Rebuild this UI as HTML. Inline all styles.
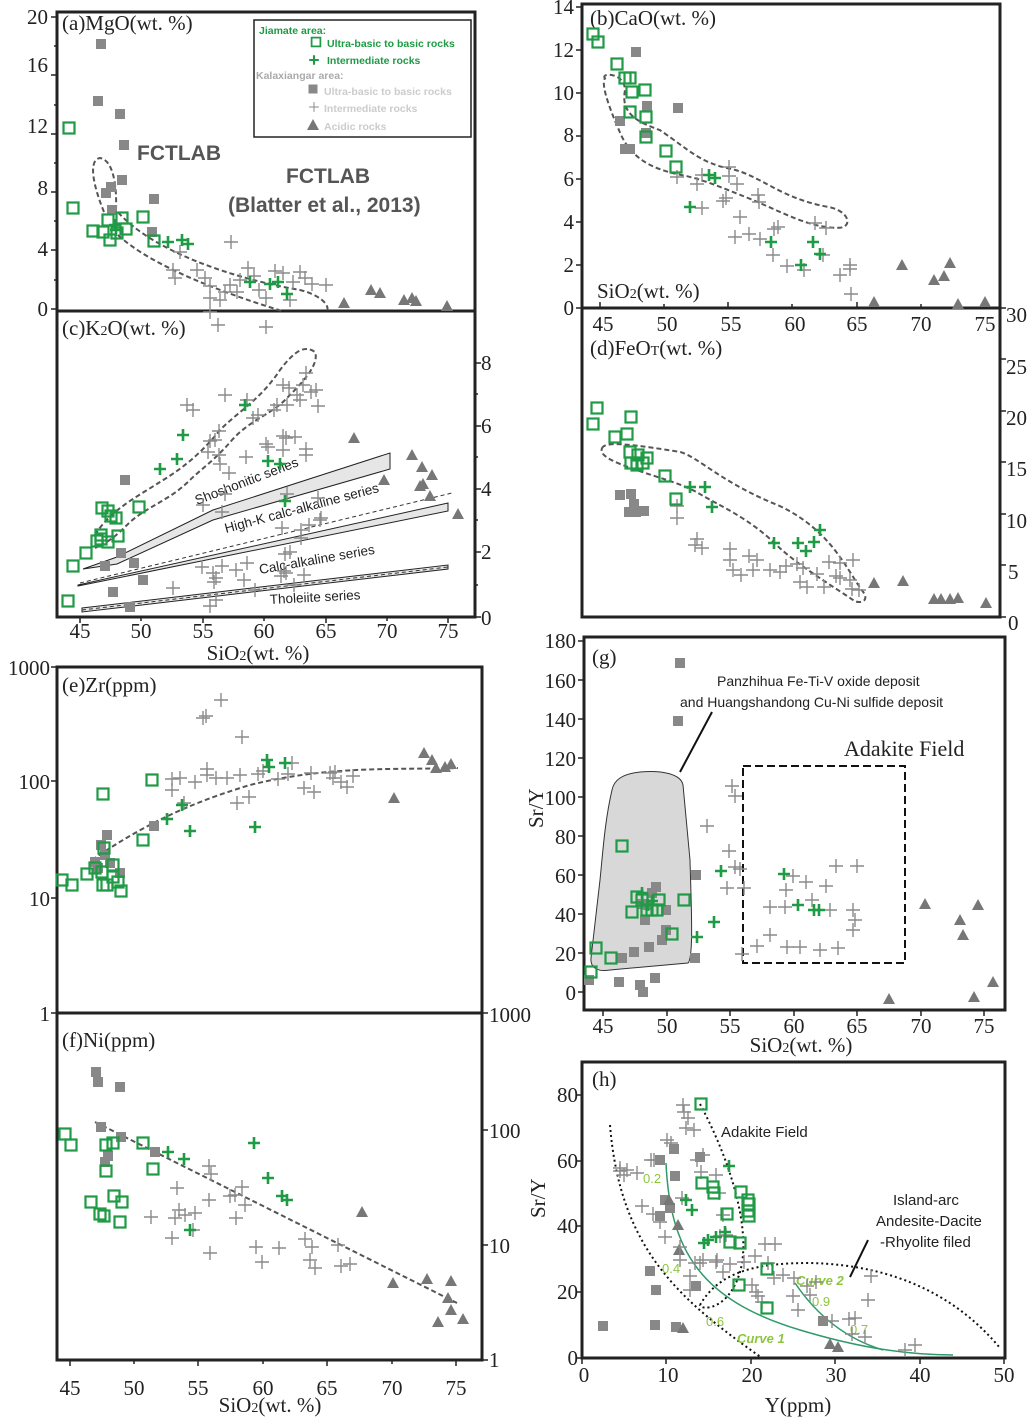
<!DOCTYPE html>
<html><head><meta charset="utf-8"><style>
html,body{margin:0;padding:0;background:#fff}
svg{display:block}
.ax{font-family:"Liberation Serif",serif;font-size:21px;fill:#222}
.sans{font-family:"Liberation Sans",sans-serif}
</style></head><body>
<svg width="1033" height="1418" viewBox="0 0 1033 1418" xmlns="http://www.w3.org/2000/svg">
<defs>
<g id="gs"><rect x="-5.5" y="-5.5" width="11" height="11" fill="none" stroke="#1f9a45" stroke-width="2.2"/></g>
<g id="gp"><path d="M-6,0H6M0,-6V6" stroke="#1f9a45" stroke-width="2.6"/></g>
<g id="ks"><rect x="-5" y="-5" width="10" height="10" fill="#888"/></g>
<g id="kp"><path d="M-7,0H7M0,-7V7" stroke="#8a8a8a" stroke-width="1.4"/></g>
<g id="kt"><path d="M0,-6L6,5H-6Z" fill="#777"/></g>
</defs>

<!-- frames -->
<g fill="none" stroke="#222" stroke-width="3">
<rect x="57" y="12" width="418" height="605"/>
<line x1="57" y1="311" x2="475" y2="311"/>
<rect x="582" y="4" width="418" height="613"/>
<line x1="582" y1="308" x2="1000" y2="308"/>
<rect x="57" y="667" width="425" height="693"/>
<line x1="57" y1="1013" x2="482" y2="1013"/>
<rect x="584" y="637" width="421" height="373"/>
<rect x="582" y="1062" width="423" height="296"/>
</g>

<!-- tick marks -->
<g stroke="#222" stroke-width="1.5">
<path d="M57,17h-6M57,46h-3M57,75h-6M57,105h-3M57,134h-6M57,163h-3M57,192h-6M57,221h-3M57,250h-6M57,280h-3M57,309h-6"/>
<path d="M475,363h6M475,394h3M475,426h6M475,457h3M475,489h6M475,520h3M475,552h6M475,585h3M475,617h6"/>
<path d="M80,617v6M141,617v4M203,617v6M264,617v4M326,617v6M387,617v4M448,617v6"/>
<path d="M582,7h-6M582,50h-6M582,93h-6M582,136h-6M582,179h-6M582,222h-6M582,265h-6M582,308h-6"/>
<path d="M600,308v-6M664,308v-4M728,308v-6M792,308v-4M857,308v-6M921,308v-4M985,308v-6"/>
<path d="M1000,308h6M1000,359h6M1000,411h6M1000,462h6M1000,514h6M1000,565h6M1000,617h6"/>
<path d="M57,667h-6M57,781h-6M57,898h-6M57,1013h-6"/>
<path d="M482,1013h6M482,1130h6M482,1245h6M482,1360h6"/>
<path d="M70,1360v6M134,1360v4M198,1360v6M263,1360v4M327,1360v6M392,1360v4M456,1360v6"/>
<path d="M584,641h-6M584,680h-6M584,719h-6M584,758h-6M584,797h-6M584,836h-6M584,875h-6M584,914h-6M584,953h-6M584,992h-6"/>
<path d="M603,1010v6M667,1010v6M730,1010v6M794,1010v6M857,1010v6M921,1010v6M984,1010v6"/>
<path d="M582,1095h-6M582,1161h-6M582,1226h-6M582,1292h-6M582,1358h-6"/>
<path d="M582,1358v6M666,1358v6M751,1358v6M835,1358v6M920,1358v6M1004,1358v6"/>
</g>

<!-- tick labels -->
<g class="ax" text-anchor="end">
<text x="48" y="24">20</text><text x="48" y="72">16</text><text x="48" y="133">12</text><text x="48" y="195">8</text><text x="48" y="256">4</text><text x="48" y="316">0</text>
<text x="574" y="14">14</text><text x="574" y="57">12</text><text x="574" y="100">10</text><text x="574" y="142">8</text><text x="574" y="186">6</text><text x="574" y="229">4</text><text x="574" y="272">2</text><text x="574" y="315">0</text>
<text x="50" y="675">1000</text><text x="50" y="789">100</text><text x="50" y="906">10</text><text x="50" y="1021">1</text>
<text x="576" y="648">180</text><text x="576" y="688">160</text><text x="576" y="727">140</text><text x="576" y="766">120</text><text x="576" y="805">100</text><text x="576" y="844">80</text><text x="576" y="883">60</text><text x="576" y="922">40</text><text x="576" y="961">20</text><text x="576" y="1000">0</text>
<text x="578" y="1102">80</text><text x="578" y="1168">60</text><text x="578" y="1233">40</text><text x="578" y="1299">20</text><text x="578" y="1365">0</text>
</g>
<g class="ax">
<text x="481" y="370">8</text><text x="481" y="433">6</text><text x="481" y="496">4</text><text x="481" y="559">2</text><text x="481" y="625">0</text>
<text x="1006" y="322">30</text><text x="1006" y="374">25</text><text x="1006" y="425">20</text><text x="1006" y="476">15</text><text x="1006" y="528">10</text><text x="1008" y="579">5</text><text x="1008" y="630">0</text>
<text x="489" y="1022">1000</text><text x="489" y="1138">100</text><text x="489" y="1253">10</text><text x="489" y="1367">1</text>
</g>
<g class="ax" text-anchor="middle">
<text x="80" y="638">45</text><text x="141" y="638">50</text><text x="203" y="638">55</text><text x="264" y="638">60</text><text x="326" y="638">65</text><text x="387" y="638">70</text><text x="448" y="638">75</text>
<text x="603" y="331">45</text><text x="667" y="331">50</text><text x="731" y="331">55</text><text x="795" y="331">60</text><text x="857" y="331">65</text><text x="921" y="331">70</text><text x="985" y="331">75</text>
<text x="70" y="1395">45</text><text x="134" y="1395">50</text><text x="198" y="1395">55</text><text x="263" y="1395">60</text><text x="327" y="1395">65</text><text x="392" y="1395">70</text><text x="456" y="1395">75</text>
<text x="603" y="1033">45</text><text x="667" y="1033">50</text><text x="730" y="1033">55</text><text x="794" y="1033">60</text><text x="857" y="1033">65</text><text x="921" y="1033">70</text><text x="984" y="1033">75</text>
<text x="584" y="1382">0</text><text x="668" y="1382">10</text><text x="752" y="1382">20</text><text x="836" y="1382">30</text><text x="920" y="1382">40</text><text x="1004" y="1382">50</text>
<text x="258" y="660">SiO<tspan font-size="14">2</tspan>(wt. %)</text>
<text x="270" y="1412">SiO<tspan font-size="14">2</tspan>(wt. %)</text>
<text x="801" y="1052">SiO<tspan font-size="14">2</tspan>(wt. %)</text>
<text x="798" y="1412">Y(ppm)</text>
</g>
<g class="ax">
<text x="62" y="30">(a)MgO(wt. %)</text>
<text x="590" y="25">(b)CaO(wt. %)</text>
<text x="597" y="298">SiO<tspan font-size="14">2</tspan>(wt. %)</text>
<text x="62" y="335">(c)K<tspan font-size="14">2</tspan>O(wt. %)</text>
<text x="590" y="355">(d)FeO<tspan font-size="14">T</tspan>(wt. %)</text>
<text x="62" y="692">(e)Zr(ppm)</text>
<text x="62" y="1047">(f)Ni(ppm)</text>
<text x="592" y="664">(g)</text>
<text x="592" y="1086">(h)</text>
<text transform="translate(543,828) rotate(-90)">Sr/Y</text>
<text transform="translate(545,1218) rotate(-90)">Sr/Y</text>
<text x="844" y="756" font-size="22">Adakite Field</text>
</g>

<!-- legend -->
<rect x="254" y="20" width="217" height="117" fill="none" stroke="#222" stroke-width="1.5"/>
<g class="sans" font-size="10.5" font-weight="bold">
<text x="259" y="34" fill="#1f9a45">Jiamate area:</text>
<text x="327" y="47" fill="#1f9a45">Ultra-basic to basic rocks</text>
<text x="327" y="64" fill="#1f9a45">Intermediate rocks</text>
<text x="256" y="79" fill="#aaa">Kalaxiangar area:</text>
<text x="324" y="95" fill="#ccc">Ultra-basic to basic rocks</text>
<text x="324" y="112" fill="#ccc">Intermediate rocks</text>
<text x="324" y="130" fill="#ccc">Acidic rocks</text>
</g>
<g transform="translate(316,42) scale(0.8)"><use href="#gs"/></g>
<g transform="translate(314,60) scale(0.8)"><use href="#gp"/></g>
<g transform="translate(313,89) scale(0.9)"><use href="#ks"/></g>
<g transform="translate(314,107) scale(0.7)"><use href="#kp"/></g>
<g transform="translate(313,125)"><use href="#kt"/></g>
<g class="sans" font-weight="bold" fill="#555" font-size="21">
<text x="137" y="160">FCTLAB</text>
<text x="286" y="183">FCTLAB</text>
<text x="228" y="212">(Blatter et al., 2013)</text>
</g>

<!-- dashed outlines -->
<g fill="none" stroke="#555" stroke-width="2" stroke-dasharray="5,3">
<path d="M104,212 C93,185 88,160 100,158 C113,160 117,185 116,210 C150,250 230,278 300,290 C320,295 330,305 327,311"/>
<path d="M118,235 C150,265 220,292 282,311"/>
<path d="M95,535 C110,510 140,495 160,482 C180,470 200,455 220,430 C240,410 260,400 280,370 C295,350 305,345 315,352 C320,365 300,385 285,400 C270,415 250,420 232,440 C215,460 200,470 190,480 C170,500 150,505 130,522 C120,532 110,542 95,548"/>
<path d="M92,860 C150,820 200,800 250,785 C330,765 400,770 458,768"/>
<path d="M95,1122 L457,1303"/>
</g>
<g fill="none" stroke="#555" stroke-width="2" stroke-dasharray="5,3" transform="scale(1,1.205)">
<path vector-effect="non-scaling-stroke" d="M605,65 C600,60 625,60 625,75 C620,95 640,102 660,108 C690,125 700,135 730,140 C760,145 780,165 830,172 C850,176 852,188 840,189 C810,190 780,175 750,165 C720,155 700,148 680,145 C650,140 630,130 620,110 C612,95 600,70 605,65Z"/>
<path vector-effect="non-scaling-stroke" d="M602,372 C605,365 640,370 680,375 C700,380 720,400 780,420 C830,440 845,470 862,490 C870,498 862,501 855,499 C830,485 800,470 780,455 C750,430 720,420 700,410 C680,400 650,395 620,385 C605,380 600,376 602,372Z"/>
</g>

<!-- c series bands -->
<g fill="#e6e6e6" stroke="#222" stroke-width="1">
<path d="M83,569 L117,557 L213,510 L390,453 L390,469 L213,520 L117,564 Z"/>
<path d="M78,585 L448,503 L448,511 L78,586 Z"/>
<path d="M82,608 L448,565 L448,569 L82,612 Z"/>
</g>
<g stroke="#333" stroke-width="1" stroke-dasharray="4,3" fill="none">
<path d="M80,583 L452,493"/><path d="M82,610 L448,567"/>
</g>
<g class="sans" font-size="13.5" fill="#222">
<text transform="translate(197,505) rotate(-21)">Shoshonitic series</text>
<text transform="translate(226,533) rotate(-15)">High-K calc-alkaline series</text>
<text transform="translate(260,574) rotate(-10)">Calc-alkaline series</text>
<text transform="translate(270,604) rotate(-3)">Tholeiite series</text>
</g>

<!-- g region -->
<path d="M612,790 C605,820 603,850 600,880 L591,958 C590,968 598,972 610,970 L688,963 C694,958 691,900 690,860 L683,785 C681,774 662,770 640,772 C622,774 614,780 612,790Z" fill="#d8d8d8" stroke="#333" stroke-width="1"/>
<path d="M680,772 L712,712" stroke="#111" stroke-width="2"/>
<rect x="743" y="766" width="162" height="197" fill="none" stroke="#111" stroke-width="2" stroke-dasharray="8,4"/>
<g class="sans" font-size="14" fill="#222">
<text x="717" y="686">Panzhihua Fe-Ti-V oxide deposit</text>
<text x="680" y="707">and Huangshandong Cu-Ni sulfide deposit</text>
<text x="721" y="1137" font-size="15">Adakite Field</text>
<text x="893" y="1205" font-size="15">Island-arc</text>
<text x="876" y="1226" font-size="15">Andesite-Dacite</text>
<text x="880" y="1247" font-size="15">-Rhyolite filed</text>
</g>

<!-- h curves -->
<g fill="none" stroke="#111" stroke-width="2" stroke-dasharray="2,3">
<path d="M610,1125 C620,1250 680,1300 762,1358"/>
<path d="M700,1104 C730,1160 752,1230 740,1272 C728,1312 700,1310 700,1305"/>
<path d="M700,1305 C720,1270 760,1263 810,1263 C900,1265 960,1300 1000,1348"/>
</g>
<path d="M850,1277 L868,1240" stroke="#111" stroke-width="2"/>
<g fill="none" stroke="#2e9a6a" stroke-width="1.5">
<path d="M666,1163 C670,1250 700,1300 800,1330 C850,1345 900,1355 953,1355"/>
<path d="M795,1283 C820,1320 850,1340 883,1350"/>
</g>
<g class="sans" font-size="13" fill="#8dc63f">
<text x="643" y="1183">0.2</text><text x="662" y="1273">0.4</text><text x="706" y="1326">0.6</text>
<text x="737" y="1343" font-style="italic" font-weight="bold">Curve 1</text>
<text x="796" y="1285" font-style="italic" font-weight="bold">Curve 2</text>
<text x="812" y="1306">0.9</text><text x="850" y="1334">0.7</text>
</g>

<!-- markers -->
<g id="pts"></g>
</svg>
<script>
var D={
ks:[[101,44],[98,101],[120,114],[124,145],[122,180],[154,199],[106,193],[111,187],[112,210],[152,232],
[636,43],[678,90],[620,100],[625,124],[630,124],[647,88],[646,110],
[620,411],[631,410],[629,425],[636,425],[644,424],[634,418],
[125,480],[121,553],[134,563],[113,592],[130,607],[143,580],[105,566],
[95,862],[101,845],[107,835],[105,855],[110,863],[120,873],[154,826],[98,868],
[96,1072],[98,1082],[120,1087],[101,1127],[121,1137],[108,1156],[155,1152],[105,1162],
[680,663],[678,721],[622,958],[634,952],[649,947],[655,978],[640,985],[643,992],[619,982],[662,940],[666,930],[666,910],[695,958],[656,887],[652,893],[648,905],[696,875],[642,904],[645,920],[589,980],
[660,1160],[674,1149],[675,1176],[660,1216],[670,1208],[700,1157],[650,1271],[656,1290],[655,1325],[676,1327],[603,1326],[696,1286],[823,1321],[665,1200]],
gs:[[69,128],[73,208],[93,231],[103,232],[110,240],[108,220],[122,218],[126,229],[143,217],[154,241],[117,233],
[593,28],[598,35],[617,53],[625,65],[630,65],[632,76],[645,75],[630,93],[646,97],[646,114],[666,125],[676,139],
[593,352],[597,339],[615,363],[627,360],[631,346],[630,375],[638,378],[637,386],[643,384],[631,384],[665,395],[676,414],[647,380],
[73,566],[68,601],[86,553],[97,541],[101,539],[108,542],[101,535],[102,508],[108,511],[111,516],[116,518],[118,536],[139,507],
[62,880],[72,885],[87,874],[95,868],[102,872],[103,885],[107,885],[113,865],[113,877],[118,882],[121,891],[103,794],[104,848],[143,840],[152,780],
[65,1134],[71,1145],[106,1145],[113,1143],[106,1171],[91,1202],[100,1214],[104,1216],[114,1196],[122,1202],[120,1222],[143,1143],[153,1169],
[622,846],[596,948],[591,972],[611,958],[637,897],[642,900],[647,910],[652,910],[657,910],[632,912],[659,900],[684,900],[672,934],
[701,1104],[702,1183],[713,1187],[714,1193],[727,1214],[741,1192],[740,1243],[748,1200],[749,1204],[748,1211],[749,1216],[739,1285],[767,1269],[767,1308],[730,1242]],
gp:[[115,225],[116,230],[168,242],[182,240],[188,244],[250,282],[270,284],[278,282],[287,294],
[690,172],[709,145],[715,148],[771,201],[801,220],[813,201],[820,211],
[690,404],[705,404],[712,421],[774,451],[798,451],[814,450],[820,440],[806,457],
[160,469],[177,459],[183,435],[245,405],[268,461],[280,464],[285,501],
[167,819],[182,805],[190,831],[255,827],[267,760],[285,763],[269,767],
[168,1152],[184,1159],[254,1143],[268,1178],[282,1196],[287,1200],[190,1230],
[642,893],[648,905],[652,901],[697,937],[714,922],[721,871],[784,874],[798,905],[814,910],[819,910],
[686,1200],[692,1210],[708,1240],[716,1237],[725,1232],[729,1166],[704,1243]],
kp:[[231,242],[180,252],[173,270],[175,278],[197,270],[205,278],[210,286],[210,298],[230,285],[237,292],[248,268],[254,276],[259,290],[266,298],[275,271],[283,273],[293,282],[300,272],[305,278],[312,284],[326,285],[220,300],[290,300],[210,312],[240,280],[225,292],
[677,147],[697,153],[702,145],[702,173],[729,146],[729,139],[737,153],[723,167],[726,164],[740,180],[735,197],[749,194],[760,198],[758,162],[759,168],[773,212],[774,190],[778,188],[787,221],[804,224],[815,185],[826,189],[823,212],[840,228],[850,220],[850,223],[851,244],
[677,420],[677,430],[697,447],[695,452],[702,455],[730,456],[730,465],[733,473],[741,477],[753,473],[749,461],[757,465],[770,473],[780,475],[786,470],[797,468],[800,483],[803,471],[807,487],[817,476],[829,466],[824,487],[836,478],[840,480],[840,467],[853,465],[850,481],[852,489],[859,490],
[218,325],[266,327],[187,405],[193,410],[225,395],[247,400],[253,418],[258,415],[283,385],[289,388],[277,405],[287,405],[297,395],[300,400],[303,385],[306,373],[311,392],[316,390],[318,406],[274,410],[283,436],[283,450],[268,447],[266,444],[219,431],[210,441],[215,440],[219,455],[208,452],[246,457],[286,438],[295,437],[220,464],[229,473],[203,505],[222,512],[225,494],[306,455],[306,449],[287,494],[282,528],[301,538],[309,525],[320,520],[318,498],[321,518],[244,580],[222,566],[236,570],[216,578],[213,573],[202,567],[214,582],[210,606],[255,590],[247,563],[284,571],[281,576],[290,552],[301,530],[285,554],[286,573],[294,585],[304,575],[173,588],[216,600],
[203,718],[206,716],[221,700],[242,737],[172,779],[180,778],[172,790],[184,803],[195,782],[207,769],[207,775],[216,778],[237,803],[227,778],[240,775],[258,774],[263,771],[278,779],[288,774],[311,773],[304,788],[314,792],[330,773],[333,778],[341,782],[353,776],[347,787],[335,772],[292,763],[249,797],
[209,1166],[211,1174],[177,1188],[179,1210],[151,1217],[175,1218],[172,1238],[185,1215],[195,1213],[193,1230],[210,1253],[209,1200],[230,1196],[236,1218],[242,1187],[256,1247],[262,1262],[279,1248],[305,1239],[312,1247],[310,1260],[315,1268],[338,1245],[341,1266],[350,1264],[235,1195],[245,1205],
[707,826],[729,851],[735,867],[732,786],[735,796],[740,869],[727,888],[744,888],[742,954],[757,946],[770,935],[770,907],[785,907],[786,890],[787,947],[793,876],[800,947],[806,882],[812,900],[820,950],[826,886],[830,910],[836,866],[838,948],[853,910],[853,930],[855,920],[857,866],
[683,1105],[684,1112],[688,1118],[686,1128],[694,1130],[667,1140],[671,1143],[654,1160],[651,1160],[627,1170],[620,1168],[624,1175],[637,1173],[642,1206],[653,1214],[660,1222],[682,1198],[665,1237],[697,1160],[703,1155],[701,1172],[716,1175],[719,1193],[723,1215],[726,1235],[720,1236],[703,1260],[695,1263],[700,1263],[716,1262],[723,1272],[680,1247],[680,1260],[690,1276],[690,1290],[717,1260],[730,1264],[755,1256],[765,1244],[775,1244],[768,1263],[744,1262],[752,1285],[756,1292],[758,1296],[762,1302],[774,1278],[783,1275],[794,1278],[793,1296],[807,1286],[810,1295],[816,1282],[798,1310],[832,1321],[849,1319],[855,1318],[871,1276],[868,1300],[852,1334],[865,1337],[905,1350],[915,1345],[620,1171]],
kt:[[344,303],[371,290],[380,293],[404,300],[412,298],[416,301],[447,306],
[874,251],[902,220],[934,232],[944,229],[950,218],[958,252],[985,251],
[874,484],[903,482],[934,497],[941,497],[950,497],[958,496],[986,500],
[354,438],[412,455],[422,467],[432,475],[384,480],[420,486],[423,484],[430,496],[458,514],
[394,798],[424,753],[432,760],[436,768],[445,767],[451,764],
[362,1212],[393,1283],[427,1279],[451,1281],[448,1298],[451,1310],[438,1322],[463,1319],
[889,999],[925,904],[960,920],[963,935],[978,905],[974,997],[993,982],
[669,1200],[678,1225],[679,1250],[683,1328],[838,1347],[830,1344]]
};
var g=document.getElementById('pts'),s='';
['ks','kt','kp','gs','gp'].forEach(function(k){D[k].forEach(function(p){var y=p[1];if(p[0]>=582&&y<=520)y=Math.round(y*1.205);s+='<use href="#'+k+'" x="'+p[0]+'" y="'+y+'"/>';});});
g.innerHTML=s;
</script>
</body></html>
